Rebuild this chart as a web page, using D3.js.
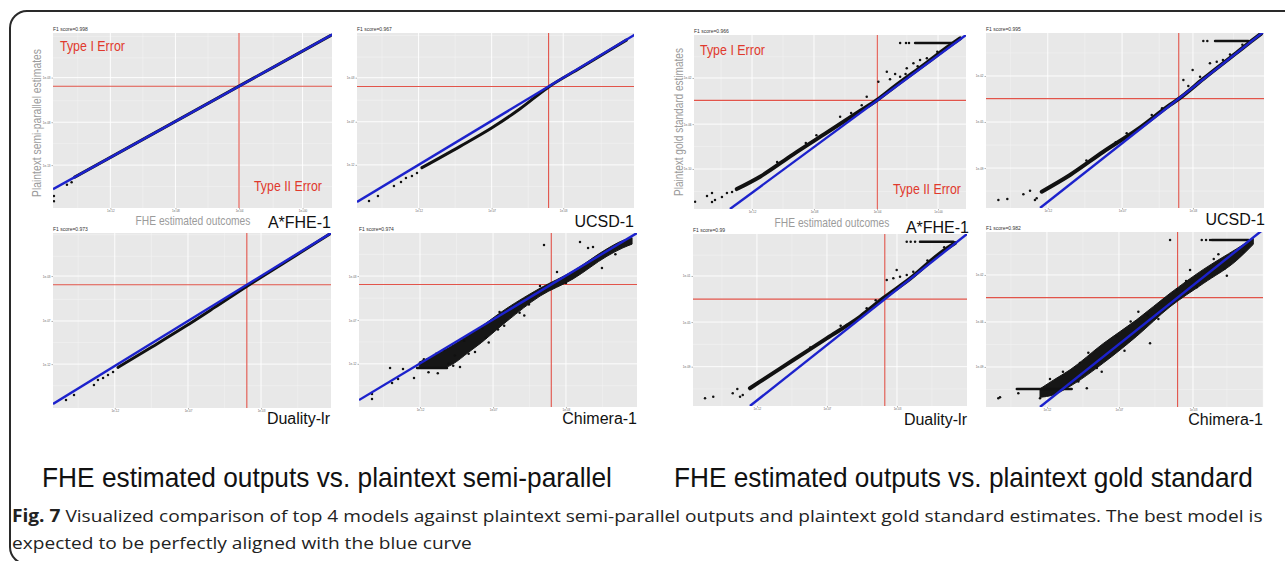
<!DOCTYPE html>
<html>
<head>
<meta charset="utf-8">
<style>
  body { margin: 0; background: #fff; }
  svg { display: block; }
  text { font-family: "Liberation Sans", Arial, sans-serif; }
</style>
<script src="https://d3js.org/d3.v7.min.js"></script>
</head>
<body>
<script>

// ---- data (log10 units) ----
var models = ["A*FHE-1", "UCSD-1", "Duality-lr", "Chimera-1"];
var f1Semi = [0.998, 0.967, 0.973, 0.974];
var f1Gold = [0.966, 0.995, 0.99, 0.982];

var xDomain = [-16, 2];
var yDomains = [[-18.2, 2.2], [-16.65, 2.22], [-16.42, 2], [-16.75, 2],
                [-13.62, 2], [-12.5, 1.87], [-12.26, 2], [-12.49, 1.81]];
var thresholds = [-4, -3.55, -3.45, -3.55, -3.87, -3.52, -3.4, -3.55];

var xTicks = [[-12.3, -8.1, -4, 0.1], [-12, -7.25, -2.6], [-12, -7.26, -2.53], [-12.05, -7.32, -2.6],
              [-12.16, -8.06, -3.89, 0.15], [-12, -7.19, -2.6], [-11.8, -7.2, -2.6], [-12.04, -7.36, -2.55]];
var yTicks = [[-13.2, -8.2, -3], [-12, -7.35, -2.6], [-11.8, -7.26, -2.53], [-12.1, -7.38, -2.64],
              [-10.03, -6, -1.86], [-9.22, -5.44, -1.66], [-9, -5.3, -1.48], [-9.22, -5.54, -1.7]];

// dense runs of points, drawn as a thick trace
var semiAfheCurve = [[-14.6, -14.6], [-9, -9], [-4, -4], [1.9, 1.9]];
var semiUcsdCurve = [[-11.78, -12.3], [-9.3, -10.0], [-7.23, -8.0], [-5.4, -5.95], [-3.59, -3.65], [-1.5, -1.56], [0.44, 0.38], [1.5, 1.45]];
var semiDualityCurve = [[-11.79, -12.15], [-9.6, -10.0], [-7.45, -7.85], [-5.5, -5.8], [-3.44, -3.6], [-1, -1.1], [1.1, 1.05], [1.9, 1.88]];
var goldAfheCurve = [[-13.17, -11.83], [-11.63, -10.72], [-9.43, -8.71], [-7.22, -6.77], [-5.01, -4.82], [-3.9, -3.84], [-2.8, -2.7], [-0.59, -0.49], [0.73, 0.86], [1.61, 1.7]];
var goldUcsdCurve = [[-12.39, -11.16], [-10.56, -9.79], [-8.4, -7.88], [-6.24, -6.09], [-4.09, -4.04], [-3.5, -3.52], [-1.93, -1.9], [0.23, 0.25], [1.31, 1.33], [1.8, 1.8]];
var goldDualityCurve = [[-12.26, -10.79], [-11.6, -10.24], [-9.41, -8.45], [-7.22, -6.65], [-5.03, -4.86], [-3.45, -3.28], [-1.74, -1.7], [0.43, 0.59], [1.21, 1.25]];

// wide scatter bands: [x, yLow, yHigh]
var semiChimeraBand = [[-12.1, -12.6, -11.9], [-10.76, -12.6, -10.9], [-8.62, -10.5, -8.7], [-6.42, -7.5, -6.1],
                       [-4.28, -4.8, -3.95], [-2.14, -2.95, -2.1], [0.06, -0.5, 0.3], [1.09, 0.4, 1.2], [1.68, 0.8, 1.5]];
var goldChimeraBand = [[-12.49, -11.7, -11.0], [-11.63, -11.5, -10.3], [-10.54, -10.8, -9.45], [-8.38, -8.9, -7.3],
                       [-6.2, -6.7, -5.35], [-4.04, -4.3, -3.2], [-1.88, -2.4, -1.25], [0.3, -0.5, 0.45], [1.37, 0.8, 1.3]];

// horizontal runs of tied values: [[x0, y], [x1, y]]
var semiChimeraRun = [[-12.24, -12.55], [-10.3, -12.55]];
var goldChimeraRun = [[-14.0, -11.02], [-10.43, -11.02]];
var goldAfheCap = [[-1.37, 1.28], [1.08, 1.28]];
var goldUcsdCap = [[-1.17, 1.21], [0.98, 1.21]];
var goldDualityCap = [[-1.09, 1.36], [1.1, 1.36]];
var goldChimeraCap = [[-1.33, 1.16], [1.05, 1.16]];

// single points
var semiAfhePts = [[-15.1, -15.5], [-15.94, -16.8], [-15.94, -17.4], [-14.8, -15.2]];
var semiUcsdPts = [[-15.22, -15.9], [-14.64, -15.36], [-13.6, -14.28], [-13.14, -13.85], [-12.82, -13.42], [-12.43, -13.2], [-12.1, -12.88]];
var semiDualityPts = [[-15.16, -15.58], [-14.64, -15.05], [-13.35, -14.0], [-13.09, -13.47], [-12.76, -13.26], [-12.44, -12.95], [-12.11, -12.63]];
var semiChimeraPts = [[-4.02, 0.71], [-1.69, 1.03], [-0.27, -1.77], [-1.17, 0.38], [-0.85, 0.49], [-13.99, -12.55], [-13.15, -12.66],
                      [-12.44, -13.63], [-13.47, -13.74], [-13.86, -14.17], [-15.16, -15.36], [-15.16, -15.9], [-9.46, -12.45],
                      [-8.49, -10.83], [-4.28, -3.71], [-3.18, -2.2], [-11.5, -13.0], [-10.2, -12.1], [-9.8, -11.2], [-7.8, -9.3],
                      [-7.0, -8.4], [-5.6, -6.6], [-5.0, -5.7], [-9.2, -9.6], [-11.0, -11.0], [-6.9, -6.5], [-2.6, -3.4], [0.6, -0.3],
                      [-11.8, -11.6], [-10.5, -10.6], [-8.0, -8.3], [-6.0, -5.9], [-10.9, -13.1], [-9.9, -12.3], [-8.9, -11.0],
                      [-7.6, -9.8], [-6.6, -8.0], [-5.3, -6.9]];
var goldAfhePts = [[-15.93, -12.97], [-15.14, -12.46], [-14.81, -12.19], [-14.81, -13.0], [-14.61, -12.82], [-14.15, -12.55], [-13.82, -12.19],
                   [-13.48, -12.1], [-3.24, -1.3], [-3.8, -2.19], [-3.03, -1.98], [-2.36, -1.74], [-1.48, -0.54], [-1.92, -0.99],
                   [-1.04, -0.25], [-6.33, -5.34], [-4.57, -3.54], [-0.59, -0.09], [-2.69, -1.5], [-2.36, 1.28], [-1.97, 1.28], [-1.77, 1.28],
                   [-10.5, -9.4], [-8.6, -7.7], [-7.9, -7.0], [-5.6, -5.0], [-4.9, -4.3], [-1.2, -0.8], [0.1, 0.5], [-2.0, -1.5]];
var goldUcsdPts = [[-15.2, -11.84], [-14.62, -11.76], [-13.58, -11.37], [-13.15, -11.08], [-12.83, -11.84], [-12.72, -11.7], [-2.62, -1.17],
                   [-3.22, -1.99], [-2.9, -2.48], [-1.5, -0.62], [-1.06, -0.49], [-2.14, -1.72], [-5.27, -4.86], [-6.89, -6.36],
                   [-0.66, -0.35], [-1.93, 1.21], [-1.67, 1.21], [-9.5, -8.6], [-7.6, -7.1], [-4.6, -4.3], [-0.2, 0.1], [0.6, 0.9]];
var goldDualityPts = [[-15.21, -11.62], [-14.67, -11.49], [-13.39, -11.21], [-13.09, -10.85], [-12.91, -11.49], [-12.73, -11.35], [-2.62, -0.98],
                      [-3.27, -1.81], [-2.84, -1.67], [-1.96, -1.4], [-1.53, -1.13], [-4.59, -4.16], [-5.9, -5.54], [-2.4, -1.54],
                      [-1.96, 1.36], [-1.7, 1.36], [-1.41, 1.36], [-8.3, -7.4], [-6.3, -5.6], [-4.0, -3.5], [-0.6, -0.2], [0.5, 0.9]];
var goldChimeraPts = [[-4.04, 1.16], [-0.35, -1.76], [-15.2, -11.78], [-15.09, -11.7], [-13.9, -11.37], [-12.49, -11.78], [-11.84, -10.2],
                      [-9.45, -10.96], [-9.35, -8.05], [-8.48, -9.6], [-5.34, -7.28], [-2.74, -1.3], [-3.18, -3.07], [-6.1, -4.7],
                      [0.72, 0.2], [-1.98, 1.16], [-1.7, 1.16], [-1.44, 1.16], [-11.0, -9.6], [-10.0, -10.4], [-7.5, -6.7],
                      [-7.0, -7.9], [-5.5, -5.0], [-4.8, -5.3], [-3.0, -2.2], [-1.2, -0.4], [-0.5, -1.2], [-9.9, -8.9], [-8.8, -9.3],
                      [-6.6, -5.5], [-3.6, -2.9], [-2.3, -2.7], [-0.9, 0.0]];

var curves = [semiAfheCurve, semiUcsdCurve, semiDualityCurve, null, goldAfheCurve, goldUcsdCurve, goldDualityCurve, null];
var bands = [null, null, null, semiChimeraBand, null, null, null, goldChimeraBand];
var runs = [[], [], [], [semiChimeraRun], [goldAfheCap], [goldUcsdCap], [goldDualityCap], [goldChimeraRun, goldChimeraCap]];
var points = [semiAfhePts, semiUcsdPts, semiDualityPts, semiChimeraPts, goldAfhePts, goldUcsdPts, goldDualityPts, goldChimeraPts];

// ---- layout ----
var width = 1285, height = 561;
// plot boxes [left, top, right, bottom] and model label anchor [right, baseline]
var boxes = [[53, 33, 332, 208], [357, 33, 634, 208], [53, 233, 331, 408], [359, 233, 637, 407],
             [694, 35, 966, 209], [986, 33, 1264, 208], [693, 234, 967, 406], [986, 232, 1263, 407]];
var labelPos = [[331, 228], [634, 227], [330, 424], [637, 424], [969, 233], [1265, 225], [967, 425], [1263, 425]];

var svg = d3.select("body").append("svg")
    .attr("width", width)
    .attr("height", height);

// outer rounded frame
svg.append("rect")
    .attr("x", 10).attr("y", 11)
    .attr("width", 1300).attr("height", 553)
    .attr("rx", 17)
    .attr("fill", "none")
    .attr("stroke", "#2a2a2a")
    .attr("stroke-width", 2);

var tickFmt = function(v) {
  var r = Math.round(v);
  return "1e" + (r < 0 ? "-" : "+") + d3.format("02d")(Math.abs(r));
};

var minorOf = function(ticks, dom) {
  var step = ticks[1] - ticks[0], out = [];
  var v = ticks[0] - step / 2;
  while (v > dom[0]) v -= step;
  for (v += step; v < dom[1]; v += step / 2) out.push(v);
  return out.filter(function(m) { return !ticks.some(function(t) { return Math.abs(t - m) < step / 4; }); });
};

var lineGen = function(x, y) {
  return d3.line().x(function(d) { return x(d[0]); }).y(function(d) { return y(d[1]); });
};

// squeeze a text horizontally to a target width (the figure's type is condensed)
var squeeze = function(sel, px, py, targetW, rot) {
  sel.attr("x", 0).attr("y", 0);
  var s = targetW / sel.node().getComputedTextLength();
  sel.attr("transform", "translate(" + px + "," + py + ")" + (rot ? " rotate(" + rot + ")" : "") + " scale(" + s + ",1)");
  return sel;
};

boxes.forEach(function(b, i) {
  var g = svg.append("g");
  var x = d3.scaleLinear().domain(xDomain).range([b[0], b[2]]);
  var y = d3.scaleLinear().domain(yDomains[i]).range([b[3], b[1]]);

  g.append("rect")
      .attr("x", b[0]).attr("y", b[1])
      .attr("width", b[2] - b[0]).attr("height", b[3] - b[1])
      .attr("fill", "#e8e8e8");

  // grid
  minorOf(xTicks[i], xDomain).forEach(function(v) {
    g.append("line").attr("x1", x(v)).attr("x2", x(v)).attr("y1", b[1]).attr("y2", b[3])
      .attr("stroke", "#f4f4f4").attr("stroke-width", 0.5);
  });
  minorOf(yTicks[i], yDomains[i]).forEach(function(v) {
    g.append("line").attr("y1", y(v)).attr("y2", y(v)).attr("x1", b[0]).attr("x2", b[2])
      .attr("stroke", "#f4f4f4").attr("stroke-width", 0.5);
  });
  xTicks[i].forEach(function(v) {
    g.append("line").attr("x1", x(v)).attr("x2", x(v)).attr("y1", b[1]).attr("y2", b[3])
      .attr("stroke", "#fff").attr("stroke-width", 0.9);
  });
  yTicks[i].forEach(function(v) {
    g.append("line").attr("y1", y(v)).attr("y2", y(v)).attr("x1", b[0]).attr("x2", b[2])
      .attr("stroke", "#fff").attr("stroke-width", 0.9);
  });

  // axes (tiny ticks and labels)
  var xa = d3.axisBottom(x).tickValues(xTicks[i]).tickFormat(tickFmt).tickSize(1.5).tickPadding(0.5);
  var ya = d3.axisLeft(y).tickValues(yTicks[i]).tickFormat(tickFmt).tickSize(1.5).tickPadding(1);
  var gx = g.append("g").attr("transform", "translate(0," + b[3] + ")").call(xa);
  var gy = g.append("g").attr("transform", "translate(" + b[0] + ",0)").call(ya);
  [gx, gy].forEach(function(a) {
    a.select(".domain").remove();
    a.selectAll("line").attr("stroke", "#444").attr("stroke-width", 0.4);
    a.selectAll("text").attr("fill", "#666").style("font-size", "3px");
  });

  var clipId = "clip" + i;
  g.append("clipPath").attr("id", clipId).append("rect")
      .attr("x", b[0]).attr("y", b[1])
      .attr("width", b[2] - b[0]).attr("height", b[3] - b[1]);
  var pg = g.append("g").attr("clip-path", "url(#" + clipId + ")");

  // threshold lines
  var t = thresholds[i];
  pg.append("line").attr("x1", x(t)).attr("x2", x(t)).attr("y1", b[1]).attr("y2", b[3])
      .attr("stroke", "#e2544a").attr("stroke-width", 1.1);
  pg.append("line").attr("y1", y(t)).attr("y2", y(t)).attr("x1", b[0]).attr("x2", b[2])
      .attr("stroke", "#e2544a").attr("stroke-width", 1.1);

  // data
  if (bands[i]) {
    pg.append("path").datum(bands[i])
        .attr("d", d3.area().x(function(d) { return x(d[0]); })
            .y0(function(d) { return y(d[1]); })
            .y1(function(d) { return y(d[2]); })
            .curve(d3.curveMonotoneX))
        .attr("fill", "#161616")
        .attr("stroke", "#161616").attr("stroke-width", 1);
  }
  if (curves[i]) {
    pg.append("path").datum(curves[i])
        .attr("d", lineGen(x, y).curve(d3.curveMonotoneX))
        .attr("fill", "none")
        .attr("stroke", "#111")
        .attr("stroke-width", i < 4 ? 3 : 4)
        .attr("stroke-linecap", "round");
  }
  runs[i].forEach(function(r) {
    pg.append("path").datum(r)
        .attr("d", lineGen(x, y))
        .attr("stroke", "#111").attr("stroke-width", 2.4).attr("stroke-linecap", "round");
  });
  pg.selectAll("circle.pt").data(points[i]).enter().append("circle")
      .attr("class", "pt")
      .attr("cx", function(d) { return x(d[0]); })
      .attr("cy", function(d) { return y(d[1]); })
      .attr("r", 1.25)
      .attr("fill", "#111");

  // identity line
  var lo = Math.max(xDomain[0], yDomains[i][0]), hi = Math.min(xDomain[1], yDomains[i][1]) + 1;
  pg.append("line")
      .attr("x1", x(lo)).attr("y1", y(lo))
      .attr("x2", x(hi)).attr("y2", y(hi))
      .attr("stroke", "#1c22cc").attr("stroke-width", 2.4);

  // F1 score
  var f1 = i < 4 ? f1Semi[i] : f1Gold[i - 4];
  g.append("text").attr("x", b[0]).attr("y", b[1] - 2.5)
      .style("font-size", "5px").attr("fill", "#333")
      .text("F1 score=" + f1);

  // model label
  g.append("text").attr("x", labelPos[i][0]).attr("y", labelPos[i][1])
      .attr("text-anchor", "end")
      .style("font-size", "16px").attr("fill", "#111")
      .text(models[i % 4]);
});

// annotations on the A*FHE-1 panels
var annot = [
  {ty1: [60, 51], ty2: [254, 191], ytitle: [36, 123], yText: "Plaintext semi-parallel estimates", xtitle: [193, 225]},
  {ty1: [700, 55], ty2: [893, 194], ytitle: [678, 122], yText: "Plaintext gold standard estimates", xtitle: [832, 227]}
];
annot.forEach(function(a) {
  squeeze(svg.append("text").style("font-size", "14px").attr("fill", "#e0392d").text("Type I Error"),
      a.ty1[0], a.ty1[1], 65);
  squeeze(svg.append("text").style("font-size", "14px").attr("fill", "#e0392d").text("Type II Error"),
      a.ty2[0], a.ty2[1], 68);
  squeeze(svg.append("text").attr("text-anchor", "middle").attr("dy", "0.35em")
      .style("font-size", "13px").attr("fill", "#9b9b9b").text(a.yText),
      a.ytitle[0], a.ytitle[1], 148, -90);
  squeeze(svg.append("text").attr("text-anchor", "middle")
      .style("font-size", "13px").attr("fill", "#9b9b9b").text("FHE estimated outcomes"),
      a.xtitle[0], a.xtitle[1], 115);
});

// group titles
squeeze(svg.append("text").style("font-size", "28px").attr("fill", "#111")
    .text("FHE estimated outputs vs. plaintext semi-parallel"), 42, 487, 570);
squeeze(svg.append("text").style("font-size", "28px").attr("fill", "#111")
    .text("FHE estimated outputs vs. plaintext gold standard"), 674, 487, 579);

// caption
var cap1 = svg.append("text").style("font-family", "'Open Sans', sans-serif").style("font-size", "17px").attr("fill", "#222");
cap1.append("tspan").style("font-weight", "bold").text("Fig. 7");
cap1.append("tspan").text(" Visualized comparison of top 4 models against plaintext semi-parallel outputs and plaintext gold standard estimates. The best model is");
var cap2 = svg.append("text").style("font-family", "'Open Sans', sans-serif").style("font-size", "17px").attr("fill", "#222")
    .text("expected to be perfectly aligned with the blue curve");
var sx = 1251 / cap1.node().getComputedTextLength();
cap1.attr("transform", "translate(12,522) scale(" + sx + ",1)");
cap2.attr("transform", "translate(12,549) scale(" + sx + ",1)");

</script>
</body>
</html>
